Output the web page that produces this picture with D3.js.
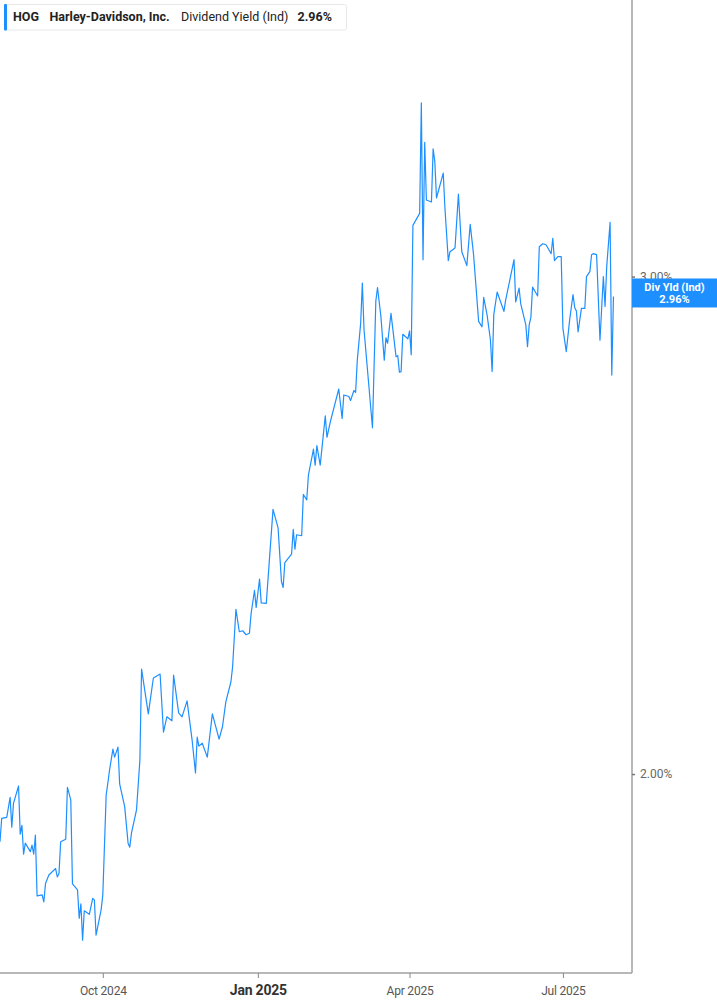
<!DOCTYPE html>
<html>
<head>
<meta charset="utf-8">
<script src="https://cdn.jsdelivr.net/npm/d3@7"></script>
<style>
  html, body { margin: 0; padding: 0; background: #fff; }
  svg { display: block; }
</style>
</head>
<body>
<svg id="chart" width="717" height="1005"></svg>
<script>
// ---- Data ----
const ticker = "HOG";
const companyName = "Harley-Davidson, Inc.";
const seriesName = "Dividend Yield (Ind)";
const lastValueLabel = "2.96%";
const badgeTitle = "Div Yld (Ind)";

const dates = [
  "2024-08-01","2024-08-02","2024-08-05","2024-08-07","2024-08-08","2024-08-09","2024-08-12","2024-08-13","2024-08-14","2024-08-15",
  "2024-08-16","2024-08-19","2024-08-20","2024-08-21","2024-08-22","2024-08-23","2024-08-26","2024-08-27","2024-08-28","2024-08-30",
  "2024-09-03","2024-09-04","2024-09-05","2024-09-06","2024-09-09","2024-09-10","2024-09-12","2024-09-13","2024-09-16","2024-09-17",
  "2024-09-18","2024-09-19","2024-09-20","2024-09-23","2024-09-25","2024-09-26","2024-09-27","2024-09-30","2024-10-01","2024-10-03",
  "2024-10-04","2024-10-05","2024-10-07","2024-10-08","2024-10-10","2024-10-11","2024-10-14","2024-10-16","2024-10-17","2024-10-18",
  "2024-10-21","2024-10-23","2024-10-24","2024-10-28","2024-10-31","2024-11-04","2024-11-06","2024-11-08","2024-11-11","2024-11-12",
  "2024-11-15","2024-11-17","2024-11-20","2024-11-23","2024-11-25","2024-11-26","2024-11-27","2024-11-29","2024-12-02","2024-12-05",
  "2024-12-09","2024-12-11","2024-12-13","2024-12-16","2024-12-17","2024-12-19","2024-12-21","2024-12-23","2024-12-25","2024-12-27",
  "2024-12-28","2024-12-30","2024-12-31","2025-01-02","2025-01-03","2025-01-06","2025-01-10","2025-01-13","2025-01-15","2025-01-16",
  "2025-01-17","2025-01-21","2025-01-22","2025-01-23","2025-01-24","2025-01-27","2025-01-28","2025-01-30","2025-01-31","2025-02-03",
  "2025-02-04","2025-02-05","2025-02-07","2025-02-10","2025-02-11","2025-02-13","2025-02-18","2025-02-20","2025-02-21","2025-02-24",
  "2025-02-25","2025-02-27","2025-02-28","2025-03-01","2025-03-03","2025-03-04","2025-03-05","2025-03-10","2025-03-12","2025-03-13",
  "2025-03-15","2025-03-17","2025-03-18","2025-03-19","2025-03-21","2025-03-24","2025-03-25","2025-03-26","2025-03-27","2025-03-28",
  "2025-03-31","2025-04-01","2025-04-02","2025-04-03","2025-04-07","2025-04-08","2025-04-09","2025-04-10","2025-04-11","2025-04-14",
  "2025-04-15","2025-04-16","2025-04-17","2025-04-21","2025-04-22","2025-04-24","2025-04-25","2025-04-27","2025-04-28","2025-04-30",
  "2025-05-02","2025-05-05","2025-05-07","2025-05-09","2025-05-12","2025-05-14","2025-05-15","2025-05-17","2025-05-19","2025-05-20",
  "2025-05-21","2025-05-23","2025-05-27","2025-05-28","2025-06-02","2025-06-03","2025-06-05","2025-06-06","2025-06-09","2025-06-10",
  "2025-06-11","2025-06-12","2025-06-13","2025-06-16","2025-06-17","2025-06-19","2025-06-21","2025-06-24","2025-06-25","2025-06-26",
  "2025-06-28","2025-06-30","2025-07-01","2025-07-03","2025-07-05","2025-07-07","2025-07-08","2025-07-09","2025-07-10","2025-07-12",
  "2025-07-14","2025-07-15","2025-07-17","2025-07-18","2025-07-19","2025-07-21","2025-07-23","2025-07-25","2025-07-26","2025-07-27",
  "2025-07-29","2025-07-30","2025-07-31"
];

const yields = [
  1.864,1.911,1.913,1.953,1.893,1.941,1.976,1.879,1.897,1.839,
  1.861,1.844,1.857,1.839,1.877,1.755,1.757,1.743,1.780,1.797,
  1.810,1.793,1.800,1.864,1.869,1.973,1.948,1.779,1.767,1.710,
  1.739,1.666,1.725,1.718,1.750,1.747,1.676,1.727,1.757,1.958,
  1.982,2.008,2.050,2.034,2.054,1.980,1.934,1.861,1.853,1.881,
  1.928,2.028,2.211,2.121,2.193,2.201,2.084,2.115,2.107,2.199,
  2.123,2.115,2.147,2.068,2.002,2.074,2.056,2.062,2.034,2.121,
  2.070,2.095,2.145,2.185,2.215,2.331,2.286,2.288,2.280,2.283,
  2.323,2.369,2.335,2.392,2.344,2.343,2.532,2.495,2.387,2.375,
  2.425,2.442,2.492,2.452,2.481,2.479,2.562,2.551,2.601,2.653,
  2.621,2.660,2.621,2.720,2.677,2.708,2.774,2.715,2.762,2.759,
  2.751,2.771,2.767,2.832,2.906,2.987,2.893,2.696,2.951,2.978,
  2.920,2.832,2.877,2.866,2.926,2.839,2.841,2.808,2.809,2.884,
  2.875,2.891,2.843,3.103,3.127,3.349,3.034,3.270,3.154,3.150,
  3.257,3.231,3.158,3.208,3.138,3.032,3.050,3.055,3.058,3.166,
  3.050,3.022,3.105,3.044,2.910,2.899,2.958,2.923,2.873,2.809,
  2.924,2.969,2.930,2.952,3.034,2.949,2.977,2.945,2.903,2.859,
  2.903,2.918,2.979,2.961,3.060,3.066,3.064,3.046,3.077,3.032,
  3.040,3.040,2.896,2.849,2.913,2.964,2.938,2.931,2.889,2.936,
  2.936,3.000,3.010,3.044,3.046,3.044,2.872,3.000,2.940,3.020,
  3.109,2.802,2.960
];

const xTickDates = ["2024-10-01","2025-01-01","2025-04-01","2025-07-01"];
const xTickLabels = ["Oct 2024","Jan 2025","Apr 2025","Jul 2025"];
const yTickValues = [2.0, 3.0];
const yTickLabels = ["2.00%","3.00%"];
const lastValue = 2.96;

// ---- Layout ----
const W = 717, H = 1005;
const plotRight = 632, plotBottom = 973;
const lineColor = "#1e8fff";
const FONT = "Roboto, 'Liberation Sans', sans-serif";
const parse = d3.utcParse("%Y-%m-%d");
const data = dates.map((d, i) => ({ date: parse(d), value: yields[i] }));

const svg = d3.select("#chart");

const x = d3.scaleUtc()
  .domain([parse("2024-08-01"), parse("2025-08-11")])
  .range([0, plotRight]);
const y = d3.scaleLinear()
  .domain([1.6, 3.556])
  .range([plotBottom, 0]);

// line
const line = d3.line().x(d => x(d.date)).y(d => y(d.value));
svg.append("path")
  .datum(data)
  .attr("fill", "none")
  .attr("stroke", lineColor)
  .attr("stroke-width", 1.2)
  .attr("stroke-linejoin", "round")
  .attr("d", line);

// bottom axis
const xAxis = d3.axisBottom(x)
  .tickValues(xTickDates.map(parse))
  .tickSize(5)
  .tickSizeOuter(0)
  .tickFormat((d, i) => xTickLabels[i]);
const gx = svg.append("g")
  .attr("transform", `translate(0,${plotBottom})`)
  .call(xAxis);
gx.select(".domain").attr("stroke", "#a0a0a0").attr("stroke-width", 1.5)
  .attr("d", `M0,0H${plotRight}`);
gx.selectAll(".tick line").attr("stroke", "#888");
gx.selectAll(".tick text")
  .attr("y", 13)
  .attr("dy", "0.71em")
  .attr("fill", "#555")
  .style("font-family", FONT)
  .style("font-size", "12px")
  .style("letter-spacing", "-0.2px")
  .attr("font-weight", (d, i) => xTickLabels[i] === "Jan 2025" ? "bold" : "normal")
  .each(function(d, i) {
    if (xTickLabels[i] === "Jan 2025") {
      d3.select(this).style("font-size", "14px").attr("fill", "#333").attr("y", 12);
    }
  });

// right axis
const yAxis = d3.axisRight(y)
  .tickValues(yTickValues)
  .tickSize(3)
  .tickSizeOuter(0)
  .tickFormat((d, i) => yTickLabels[i]);
const gy = svg.append("g")
  .attr("transform", `translate(${plotRight},0)`)
  .call(yAxis);
gy.select(".domain").attr("stroke", "#a0a0a0").attr("stroke-width", 1.5)
  .attr("d", `M0,0V${plotBottom}`);
gy.selectAll(".tick line").attr("stroke", "#777").attr("stroke-width", 1.5);
gy.selectAll(".tick text")
  .attr("x", 8)
  .attr("fill", "#666")
  .style("font-family", FONT)
  .style("font-size", "12px");

// last value badge
const by = y(lastValue);
const badge = svg.append("g");
badge.append("rect")
  .attr("x", plotRight).attr("y", by - 18)
  .attr("width", W - plotRight).attr("height", 29)
  .attr("fill", lineColor);
badge.append("text")
  .attr("x", (plotRight + W) / 2).attr("y", by - 5)
  .attr("text-anchor", "middle")
  .attr("fill", "#fff")
  .attr("font-weight", "bold")
  .style("font-family", FONT)
  .style("font-size", "11px")
  .text(badgeTitle);
badge.append("text")
  .attr("x", (plotRight + W) / 2).attr("y", by + 7)
  .attr("text-anchor", "middle")
  .attr("fill", "#fff")
  .attr("font-weight", "bold")
  .style("font-family", FONT)
  .style("font-size", "11px")
  .text(lastValueLabel);

// legend
const lg = svg.append("g");
lg.append("rect")
  .attr("x", 4.5).attr("y", 4.5).attr("width", 342).attr("height", 25.5)
  .attr("rx", 2)
  .attr("fill", "#fff").attr("stroke", "#e8e8e8");
lg.append("rect")
  .attr("x", 4).attr("y", 4).attr("width", 3).attr("height", 26.5)
  .attr("rx", 1)
  .attr("fill", lineColor);
const legendItems = [
  { text: ticker, x: 13, bold: true },
  { text: companyName, x: 49.5, bold: true },
  { text: seriesName, x: 181, bold: false },
  { text: lastValueLabel, x: 297.5, bold: true }
];
lg.selectAll("text.leg")
  .data(legendItems)
  .enter().append("text")
  .attr("class", "leg")
  .attr("x", d => d.x).attr("y", 21)
  .attr("fill", "#222")
  .attr("font-weight", d => d.bold ? "bold" : "normal")
  .style("font-family", FONT)
  .style("font-size", "12.5px")
  .text(d => d.text);
</script>
</body>
</html>
